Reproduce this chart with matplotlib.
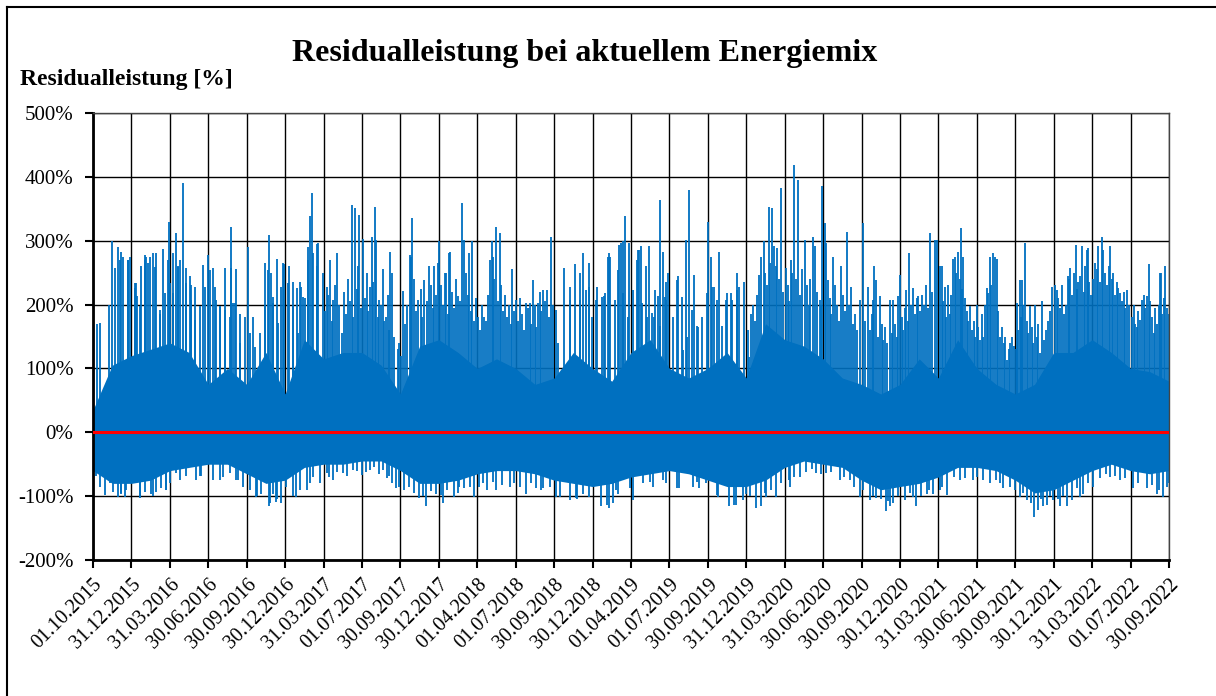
import matplotlib
matplotlib.use("Agg")
import matplotlib.pyplot as plt
from matplotlib.lines import Line2D

plt.rcParams['font.family'] = ['Liberation Serif', 'DejaVu Serif']

# ---- data (x in units of tick intervals, y in %) ----
tick_labels = ["01.10.2015", "31.12.2015", "31.03.2016", "30.06.2016", "30.09.2016",
               "30.12.2016", "31.03.2017", "01.07.2017", "30.09.2017", "30.12.2017",
               "01.04.2018", "01.07.2018", "30.09.2018", "30.12.2018", "01.04.2019",
               "01.07.2019", "30.09.2019", "31.12.2019", "31.03.2020", "30.06.2020",
               "30.09.2020", "30.12.2020", "31.03.2021", "30.06.2021", "30.09.2021",
               "30.12.2021", "31.03.2022", "01.07.2022", "30.09.2022"]

# dense body envelope, every half tick interval
body_x = [i * 0.5 for i in range(57)]
body_hi = [35, 105, 120, 130, 140, 125, 75, 100, 75, 125, 60, 145, 115, 125, 125,
           105, 60, 135, 145, 125, 100, 115, 100, 75, 85, 125, 100, 80, 125, 145,
           100, 85, 100, 125, 85, 170, 145, 135, 115, 85, 75, 60, 75, 115, 85,
           145, 100, 75, 60, 75, 125, 125, 145, 125, 100, 95, 80]
body_lo = [-60, -80, -80, -75, -60, -55, -50, -50, -65, -80, -75, -55, -50, -50, -45,
           -45, -60, -80, -80, -75, -65, -60, -60, -65, -75, -80, -85, -80, -70, -65,
           -60, -65, -75, -85, -85, -75, -55, -45, -50, -55, -75, -90, -85, -80, -70,
           -55, -55, -60, -75, -95, -90, -75, -60, -50, -60, -65, -60]

# highest peaks
peak_x = [0.00, 0.11, 0.50, 0.65, 0.74, 0.95, 1.13, 1.35, 1.56, 1.82, 1.98, 2.17, 2.26,
          2.33, 2.52, 2.86, 3.00, 3.43, 3.58, 3.72, 4.04, 4.57, 4.80, 4.97, 5.10, 5.38,
          5.51, 5.60, 5.64, 5.69, 5.84, 6.16, 6.34, 6.54, 6.75, 6.81, 6.93, 7.03, 7.25,
          7.34, 7.54, 7.74, 8.06, 8.25, 8.30, 8.75, 9.01, 9.30, 9.60, 9.86, 10.38, 10.49,
          10.91, 11.44, 11.63, 11.92, 12.26, 12.53, 12.75, 12.90, 13.46, 13.70, 13.79,
          13.84, 14.20, 14.46, 14.76, 14.83, 15.43, 15.52, 16.00, 16.30, 16.76, 16.95,
          17.34, 17.45, 17.59, 17.67, 17.80, 17.91, 18.24, 18.35, 18.73, 18.98, 19.04,
          19.08, 19.63, 20.05, 20.32, 20.38, 20.73, 20.99, 21.23, 21.79, 21.95, 22.04,
          22.38, 22.51, 22.58, 23.00, 23.26, 23.43, 23.52, 24.11, 24.25, 24.69, 25.03,
          25.36, 25.57, 25.88, 26.25, 26.47, 26.68, 27.29, 27.47, 27.79, 27.90]
peak_y = [182, 170, 300, 290, 283, 275, 233, 278, 280, 287, 330, 312, 270,
          390, 244, 262, 278, 257, 322, 255, 290, 309, 272, 264, 260, 236,
          210, 290, 338, 374, 295, 270, 280, 219, 356, 351, 340, 302, 306,
          353, 256, 283, 221, 277, 335, 260, 299, 283, 359, 300, 299, 322,
          256, 239, 220, 306, 257, 263, 280, 265, 275, 293, 299,
          338, 286, 291, 364, 283, 301, 380, 330, 283, 249, 236,
          247, 299, 353, 351, 288, 382, 419, 395, 306, 386, 327,
          296, 314, 328, 260, 239, 207, 247, 280, 312, 301, 261,
          271, 283, 320, 199, 226, 280, 272, 238, 296, 205, 231,
          244, 293, 288, 306, 291, 226, 207, 264, 249, 260]

# secondary peaks
grass_x = [0.17, 0.42, 0.56, 0.69, 0.91, 1.09, 1.15, 1.26, 1.39, 1.43, 1.65, 1.74, 1.95,
           2.08, 2.21, 2.41, 2.56, 2.65, 3.13, 3.21, 3.30, 3.60, 3.65, 3.82, 4.17, 4.47,
           4.64, 4.69, 4.90, 5.21, 5.30, 5.40, 5.82, 5.86, 5.99, 6.08, 6.25, 6.47, 6.77,
           6.90, 7.12, 7.20, 7.36, 7.42, 7.45, 7.62, 7.78, 8.28, 8.47, 8.62, 8.88, 8.97,
           9.19, 9.27, 9.49, 9.66, 9.79, 10.18, 10.32, 10.40, 10.58, 11.01, 11.27, 11.36,
           11.57, 11.70, 12.05, 12.40, 12.66, 12.92, 13.09, 13.31, 13.44, 13.74, 13.96,
           14.18, 14.26, 14.39, 14.59, 14.70, 14.92, 14.91, 15.22, 15.35, 15.65, 15.74,
           16.09, 16.17, 16.48, 16.61, 16.82, 17.08, 17.39, 17.73, 17.78, 18.04, 18.17,
           18.52, 18.78, 18.91, 19.12, 19.25, 19.47, 19.73, 19.95, 20.17, 20.30, 20.47,
           20.82, 20.95, 21.16, 21.34, 21.47, 21.90, 22.08, 22.21, 22.42, 22.17, 22.30,
           22.65, 22.82, 23.08, 23.30, 23.34, 23.47, 23.60, 23.78, 23.91, 24.05, 24.17,
           24.38, 24.51, 24.64, 24.95, 25.08, 25.27, 25.43, 25.64, 25.73, 25.86, 26.08,
           26.16, 26.29, 26.55, 26.73, 26.90, 27.16, 27.25, 27.42, 27.60, 27.77, 27.99]
grass_y = [171, 200, 257, 270, 270, 226, 213, 260, 275, 265, 280, 186, 270,
           218, 260, 257, 231, 176, 257, 207, 197, 257, 202, 186, 181, 265,
           249, 202, 228, 236, 226, 228, 260, 296, 249, 228, 207, 155, 181,
           260, 249, 228, 301, 181, 207, 181, 249, 275, 207, 239, 260, 265,
           249, 280, 213, 301, 280, 181, 270, 275, 312, 207, 202, 202,
           202, 223, 192, 207, 249, 228, 207, 213, 280, 296, 296,
           286, 291, 260, 181, 213, 236, 207, 244, 129, 246, 165,
           275, 228, 207, 218, 228, 118, 275, 291, 260, 257, 270,
           301, 291, 207, 239, 275, 260, 228, 207, 228, 207, 213,
           207, 213, 223, 226, 213, 301, 260, 181, 275, 228, 186,
           275, 197, 145, 218, 275, 275, 150, 113, 150, 202, 239,
           197, 199, 124, 228, 223, 186, 257, 236, 291, 286, 265,
           291, 286, 249, 218, 223, 165, 176, 213, 155, 249, 186]

# further peaks read from close-ups (2015-2017 and 2018-2019)
grass2_x = [0.78, 0.91, 1.08, 1.22, 1.35, 1.48, 1.61, 1.74, 1.87, 2.00, 2.08, 2.21,
            2.43, 2.56, 2.65, 2.78, 2.91, 3.04, 3.17, 3.30, 3.43, 3.56, 3.69, 3.82,
            3.95, 4.08, 4.21, 4.34, 4.47, 4.56, 4.69, 4.82, 4.95, 5.08, 5.21, 5.34,
            5.47, 5.60, 5.73,
            11.81, 12.11, 12.41, 12.67, 12.84, 12.98, 13.11, 13.24, 13.33, 13.41, 13.59,
            13.67, 13.80, 13.93, 14.06, 14.15, 14.28, 14.41, 14.54, 14.63, 14.76, 14.89,
            14.97, 15.10, 15.19, 15.32, 15.45, 15.58, 15.71, 15.84, 15.97, 16.10, 16.23,
            16.36, 16.49, 16.62, 16.75]
grass2_y = [275, 270, 233, 197, 270, 275, 259, 192, 218, 233, 280, 259,
            233, 207, 228, 197, 228, 254, 228, 197, 192, 181, 202, 140,
            181, 155, 134, 155, 197, 254, 212, 171, 265, 233, 197, 155,
            212, 270, 280,
            223, 140, 228, 207, 223, 181, 228, 212, 218, 275, 207,
            254, 218, 181, 223, 270, 202, 181, 187, 223, 166, 212,
            249, 181, 238, 212, 150, 192, 166, 181, 218, 228, 207,
            166, 218, 207, 223]

# further estimated peaks (2017-2018 and 2020-2022)
grass3_x = [6.04, 6.12, 6.21, 6.29, 6.40, 6.58, 6.63, 6.70, 6.86, 6.97,
            7.07, 7.16, 7.29, 7.50, 7.58, 7.67, 7.70, 7.83, 7.93, 7.97,
            8.02, 8.12, 8.18, 8.36, 8.41, 8.53, 8.57, 8.69, 8.80, 8.84, 8.93,
            9.06, 9.11, 9.15, 9.23, 9.35, 9.40, 9.45, 9.55, 9.71, 9.75, 9.83, 9.92, 9.96,
            10.03, 10.08, 10.13, 10.23, 10.27, 10.44, 10.53, 10.63, 10.68, 10.73, 10.78,
            10.83, 10.87, 10.96,
            11.06, 11.11, 11.16, 11.21, 11.31, 11.40, 11.49, 11.53, 11.67, 11.75, 11.86, 11.96,
            17.04, 17.13, 17.18, 17.23, 17.29, 17.50, 17.55, 17.63, 17.85, 17.96,
            18.08, 18.12, 18.20, 18.29, 18.40, 18.45, 18.57, 18.62, 18.67, 18.84, 18.95,
            19.17, 19.21, 19.30, 19.36, 19.41, 19.52, 19.57, 19.68, 19.78, 19.84, 19.89,
            20.10, 20.22, 20.26, 20.43, 20.52, 20.57, 20.62, 20.67, 20.78, 20.87, 20.91,
            21.04, 21.09, 21.12, 21.20, 21.28, 21.39, 21.43, 21.52, 21.57, 21.62, 21.67,
            21.72, 21.84,
            22.12, 22.25, 22.34, 22.46, 22.55, 22.62, 22.70, 22.74, 22.78, 22.87, 22.92, 22.96,
            23.04, 23.13, 23.17, 23.21, 23.38, 23.56, 23.65, 23.70, 23.74, 23.83, 23.87, 23.96,
            24.01, 24.08, 24.14, 24.21, 24.30, 24.34, 24.43, 24.47, 24.56, 24.60, 24.74,
            24.79, 24.86, 24.91,
            25.12, 25.17, 25.22, 25.31, 25.40, 25.48, 25.52, 25.61, 25.69, 25.78, 25.82,
            25.92, 25.97,
            26.03, 26.12, 26.20, 26.34, 26.38, 26.43, 26.51, 26.60, 26.64, 26.77, 26.82,
            26.86, 26.95,
            27.04, 27.08, 27.12, 27.20, 27.34, 27.38, 27.51, 27.55, 27.64, 27.69, 27.73,
            27.83, 27.86, 27.95]
grass3_y = [190, 215, 175, 230, 200, 185, 240, 205, 225, 195,
            210, 190, 235, 200, 175, 215, 160, 150, 130, 140,
            120, 170, 200, 240, 190, 225, 180, 205, 230, 195, 215,
            230, 200, 250, 185, 220, 195, 240, 205, 250, 215, 190, 175, 210,
            180, 160, 200, 175, 215, 240, 205, 230, 190, 215, 180,
            200, 170, 190,
            175, 210, 185, 160, 195, 170, 200, 165, 190, 205, 180, 200,
            160, 185, 200, 175, 215, 250, 230, 265, 240, 220,
            230, 205, 250, 240, 215, 255, 230, 200, 240, 220, 200,
            210, 185, 230, 200, 175, 215, 190, 200, 170, 185, 160,
            175, 160, 185, 150, 170, 145, 165, 140, 155, 170, 150,
            180, 160, 195, 175, 200, 185, 210, 190, 215, 200, 230,
            195, 220,
            205, 230, 215, 250, 240, 225, 210, 190, 175, 160, 175, 150,
            165, 185, 150, 200, 230, 190, 165, 140, 150, 130, 140, 135,
            130, 160, 180, 200, 175, 155, 165, 140, 150, 170, 145,
            160, 175, 190,
            210, 195, 230, 200, 240, 215, 250, 225, 245, 220, 260,
            235, 215,
            240, 255, 235, 250, 230, 260, 240, 215, 235, 205, 220,
            195, 200,
            180, 200, 170, 190, 215, 195, 205, 180, 195, 170, 200,
            185, 210, 195]

# deepest dips
dip_x = [0.30, 0.65, 0.82, 1.22, 1.52, 1.91, 2.26, 2.69, 3.39, 3.91, 4.25, 4.58, 4.77,
         4.90, 5.28, 5.73, 6.25, 6.99, 7.54, 7.88, 8.49, 8.67, 9.12, 9.40, 9.92, 10.49,
         11.27, 12.05, 12.40, 12.57, 13.22, 13.44, 13.66, 14.05, 14.57, 15.26, 15.78,
         16.26, 16.56, 16.74, 17.00, 17.26, 17.39, 17.78, 18.39, 18.82, 19.43, 19.95,
         20.21, 20.63, 20.82, 21.12, 21.42, 21.86, 22.23, 22.91, 23.34, 23.69, 24.30,
         24.49, 24.60, 24.82, 25.17, 25.47, 25.77, 26.47, 27.07, 27.84, 28.00]
dip_y = [-98, -101, -101, -101, -96, -90, -75, -75, -70, -85, -101, -116, -109,
         -111, -101, -70, -75, -67, -59, -88, -103, -116, -111, -101, -101, -90,
         -96, -101, -106, -103, -116, -119, -96, -106, -85, -88, -88,
         -101, -116, -114, -96, -119, -116, -101, -70, -64, -75, -101,
         -106, -124, -111, -106, -116, -96, -98, -75, -80, -88, -106,
         -132, -122, -114, -116, -106, -96, -70, -88, -101, -80]

# secondary dips
dip2_x = [0.09, 0.17, 0.43, 0.52, 0.74, 0.87, 1.04, 1.35, 1.65, 1.78, 2.00, 2.17, 2.43,
          2.82, 3.13, 3.56, 3.78, 4.08, 4.38, 4.69, 5.03, 5.38, 5.64, 5.90, 6.08, 6.51,
          6.77, 7.20, 7.71, 8.23, 8.93, 9.53, 10.14, 10.84, 11.53, 11.88, 12.75, 12.92,
          13.61, 14.31, 14.83, 14.91, 15.61, 15.96, 16.91, 17.52, 18.13, 19.08, 19.69,
          20.38, 20.73, 21.34, 21.69, 22.03, 22.56, 23.17, 23.86, 24.12, 24.73, 24.99,
          25.34, 25.69, 26.03, 26.73, 27.42, 27.68,
          0.74, 1.22, 1.56, 1.91, 2.78, 3.30, 3.73, 4.26, 4.60, 4.78, 5.21, 5.56,
          11.72, 12.15, 12.59, 13.37, 13.54, 13.98, 14.50, 15.19, 15.71, 16.23, 16.67,
          6.15, 6.35, 6.60, 6.88, 7.10, 7.30, 7.45, 7.65, 7.78, 7.95,
          8.10, 8.35, 8.58, 8.80, 9.05, 9.22, 9.50, 9.65, 9.80,
          10.05, 10.25, 10.40, 10.65, 10.95, 11.10, 11.40, 11.65,
          17.10, 17.50, 17.65, 17.90, 18.10, 18.25, 18.55, 18.70, 18.95,
          19.20, 19.55, 19.80, 20.05, 20.30, 20.50, 20.70, 20.95, 21.25, 21.55, 21.75,
          22.10, 22.40, 22.70, 23.00, 23.50, 23.60, 24.00, 24.20, 24.40, 24.68, 24.90,
          25.10, 25.25, 25.60, 25.90, 26.20, 26.35, 26.60, 26.85, 27.20, 27.55, 27.75, 27.95]
dip2_y = [-69, -85, -80, -93, -96, -90, -80, -93, -93, -88, -80, -64, -69,
          -69, -75, -64, -75, -90, -96, -96, -85, -90, -80, -80, -64, -64,
          -59, -59, -69, -85, -96, -85, -80, -85, -88, -85, -96, -101,
          -90, -80, -75, -80, -85, -80, -106, -101, -85, -64, -75,
          -103, -116, -101, -96, -90, -75, -75, -85, -101, -116, -106,
          -116, -101, -85, -75, -88, -96,
          -95, -103, -100, -90, -69, -74, -74, -100, -110, -105, -100, -90,
          -88, -101, -104, -114, -111, -88, -78, -88, -78, -98, -114,
          -70, -62, -68, -60, -62, -55, -65, -72, -80, -85,
          -90, -95, -100, -92, -98, -90, -95, -88, -85,
          -85, -90, -78, -82, -80, -85, -80, -90,
          -100, -95, -90, -80, -75, -70, -62, -58, -65,
          -62, -70, -85, -90, -100, -105, -108, -100, -95, -100, -90,
          -85, -70, -72, -70, -75, -80, -90, -95, -110, -105, -100,
          -105, -100, -88, -80, -72, -65, -68, -72, -80, -82, -90, -85]

y_ticks = [500, 400, 300, 200, 100, 0, -100, -200]

BLUE = "#0070C0"

fig = plt.figure(figsize=(12.16, 6.96), dpi=100)
ax = fig.add_axes([93 / 1216, 1 - 560 / 696, (1169 - 93) / 1216, (560 - 113) / 696])

ax.fill_between(body_x, body_lo, body_hi, color=BLUE, linewidth=0, zorder=2)
for xs, ys in [(peak_x, peak_y), (grass_x, grass_y), (grass2_x, grass2_y),
               (grass3_x, grass3_y), (dip_x, dip_y), (dip2_x, dip2_y)]:
    ax.vlines(xs, 0, ys, color=BLUE, linewidth=1.3, zorder=2)
ax.axhline(0, color="#FF0000", linewidth=2.2, zorder=4)

ax.set_xlim(0, 28)
ax.set_ylim(-200, 500)
ax.set_xticks(range(29))
ax.set_xticklabels(tick_labels, rotation=45, ha="right", va="top",
                   rotation_mode="anchor", fontsize=14.5)
ax.set_yticks(y_ticks)
ax.set_yticklabels([f"{v}%" for v in y_ticks], fontsize=15)
ax.grid(True, color="black", linewidth=1.0, zorder=1)
ax.set_axisbelow(True)
for s in ["top", "right"]:
    ax.spines[s].set_linewidth(1.0)
    ax.spines[s].set_color("#444444")
for s in ["left", "bottom"]:
    ax.spines[s].set_linewidth(2.0)
ax.tick_params(axis="both", direction="out", length=6, width=1.5)
ax.tick_params(axis="y", pad=8)
ax.tick_params(axis="x", pad=5)

fig.text(585 / 1216, 1 - 53 / 696, "Residualleistung bei aktuellem Energiemix",
         ha="center", va="center", fontsize=23, fontweight="bold")
fig.text(20 / 1216, 1 - 79 / 696, "Residualleistung [%]",
         ha="left", va="center", fontsize=17, fontweight="bold")

# chart area border (top and left visible)
fig.add_artist(Line2D([7 / 1216, 7 / 1216], [0, 1 - 7 / 696], transform=fig.transFigure,
                      color="black", linewidth=1.5))
fig.add_artist(Line2D([7 / 1216, 1], [1 - 7 / 696, 1 - 7 / 696], transform=fig.transFigure,
                      color="black", linewidth=1.5))

fig.savefig("out.png", dpi=100)
